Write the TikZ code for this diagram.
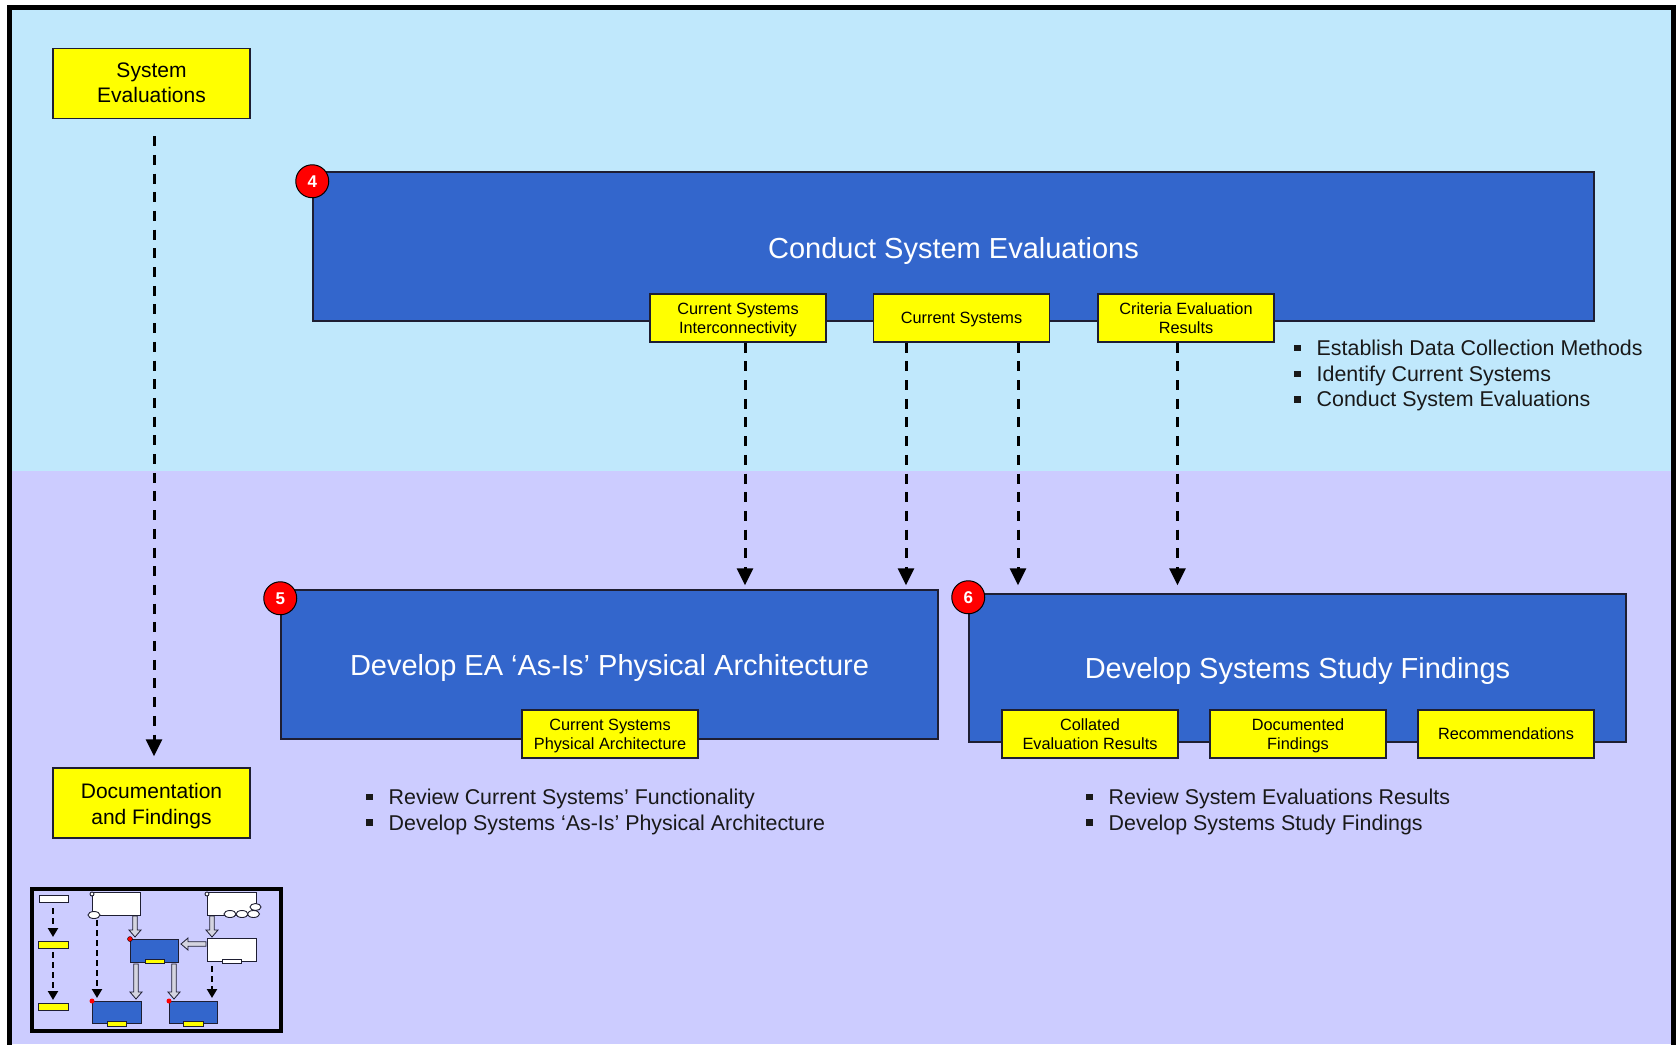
\documentclass[tikz,border=0pt]{standalone}
\usepackage{fontspec}
\setmainfont{Liberation Sans}
\usetikzlibrary{arrows.meta,calc}
\definecolor{skyb}{HTML}{C0E8FC}
\definecolor{lav}{HTML}{CCCCFF}
\definecolor{boxblue}{HTML}{3366CC}
\definecolor{yel}{HTML}{FFFF00}
\definecolor{edge}{HTML}{1E1E32}
\definecolor{hgrey}{HTML}{D4D4E0}
\newcommand{\thumbdown}[3]{%
  \draw[edge,fill=hgrey,line width=0.8pt] ({#1-2.2},{#2}) -- ({#1+2.2},{#2}) -- ({#1+2.2},{#3-7}) -- ({#1+6},{#3-7}) -- ({#1},{#3}) -- ({#1-6},{#3-7}) -- ({#1-2.2},{#3-7}) -- cycle;}
\newcommand{\thumbleft}[3]{%
  \draw[edge,fill=hgrey,line width=0.8pt] ({#1},{#3-2.2}) -- ({#1},{#3+2.2}) -- ({#2+7},{#3+2.2}) -- ({#2+7},{#3+6}) -- ({#2},{#3}) -- ({#2+7},{#3-6}) -- ({#2+7},{#3-2.2}) -- cycle;}
\newcommand{\bulletitem}[1]{\makebox[22.5pt][l]{\raisebox{4.2pt}{\rule{6.5pt}{6.5pt}}}#1}
\newcommand{\lowered}[2]{\raisebox{-#1}[\height][\depth]{\begin{tabular}{@{}c@{}}#2\end{tabular}}}
\begin{document}
\begin{tikzpicture}[x=1pt,y=-1pt,
  bigbox/.style={draw=edge,line width=1.5pt,fill=boxblue,text=white,
    font=\fontsize{29}{34}\selectfont,inner sep=0pt},
  lbl/.style={draw=edge,line width=1.3pt,fill=yel,text=black,align=center,
    minimum width=176pt,minimum height=48pt,inner sep=0pt,
    font=\fontsize{16.3}{19.3}\selectfont},
  sidebox/.style={draw=edge,line width=1.3pt,fill=yel,text=black,align=center,
    minimum width=197pt,minimum height=70pt,inner sep=0pt,
    font=\fontsize{21}{25.7}\selectfont},
  badge/.style={circle,draw=black,line width=1pt,fill=red,text=white,
    minimum size=33pt,inner sep=0pt,font=\fontsize{17}{17}\selectfont\bfseries},
  bitem/.style={anchor=base west,inner sep=0pt,text=black!90,
    font=\fontsize{21.4}{25.7}\selectfont},
  dasharrow/.style={line width=3pt,dash pattern=on 10pt off 8.7pt,
    -{Triangle[width=16pt,length=17pt]}},
  tdash/.style={line width=2pt,dash pattern=on 6pt off 4pt,
    -{Triangle[width=10pt,length=9pt]}},
  tbox/.style={draw=edge,line width=0.9pt},
]
\useasboundingbox (0,0) rectangle (1677,1044);
\fill[white] (0,0) rectangle (1677,1044);
% bands
\fill[skyb] (10,7) rectangle (1673,471);
\fill[lav] (10,471) rectangle (1673,1044);
\draw[black,line width=5pt] (9.5,1046) -- (9.5,7) -- (1673.5,7) -- (1673.5,1046);

% side boxes
\node[sidebox] (se) at (151.5,83.5) {\lowered{1.5pt}{System\\Evaluations}};
\node[sidebox] (df) at (151.5,803) {\lowered{3pt}{Documentation\\and Findings}};
\draw[dasharrow,shorten <=17pt,shorten >=11pt] ([xshift=2.5pt]se.south) -- ([xshift=2.5pt]df.north);

% main boxes
\node[bigbox,minimum width=1281pt,minimum height=149pt] (b4) at (953.5,246.5) {\lowered{5pt}{Conduct System Evaluations}};
\node[bigbox,minimum width=657pt,minimum height=149pt] (b5) at (609.5,664.5) {\lowered{4pt}{Develop EA ‘As-Is’ Physical Architecture}};
\node[bigbox,minimum width=657pt,minimum height=148pt] (b6) at (1297.5,668) {\lowered{4pt}{Develop Systems Study Findings}};

\node[badge] (n4) at (b4.north west) [yshift=-10pt] {4};
\node[badge] (n5) at (b5.north west) [yshift=-9pt] {5};
\node[badge] (n6) at (b6.north west) [yshift=-4pt] {6};

% labels
\node[lbl] (l1) at (738,318) {\lowered{2pt}{Current Systems\\Interconnectivity}};
\node[lbl] (l2) at (961.5,318) {\lowered{2pt}{Current Systems}};
\node[lbl] (l3) at (1186,318) {\lowered{2pt}{Criteria Evaluation\\Results}};
\node[lbl] (l4) at (610,734) {\lowered{2pt}{Current Systems\\Physical Architecture}};
\node[lbl] (l5) at (1090,734) {\lowered{2pt}{Collated\\Evaluation Results}};
\node[lbl] (l6) at (1298,734) {\lowered{2pt}{Documented\\Findings}};
\node[lbl] (l7) at (1506,734) {\lowered{2pt}{Recommendations}};

% connectors
\draw[dasharrow,shorten >=4pt] ([xshift=7pt]l1.south) -- ([xshift=7pt]l1.south |- b5.north);
\draw[dasharrow,shorten >=4pt] ([xshift=-55.5pt]l2.south) -- ([xshift=-55.5pt]l2.south |- b5.north);
\draw[dasharrow,shorten >=8pt] ([xshift=56.5pt]l2.south) -- ([xshift=56.5pt]l2.south |- b6.north);
\draw[dasharrow,shorten >=8pt] ([xshift=-8.5pt]l3.south) -- ([xshift=-8.5pt]l3.south |- b6.north);

% bullet lists
\node[bitem] (t1) at (1294,355.5) {\bulletitem{Establish Data Collection Methods}};
\node[bitem] (t2) at (1294,381.2) {\bulletitem{Identify Current Systems}};
\node[bitem] (t3) at (1294,406.9) {\bulletitem{Conduct System Evaluations}};
\node[bitem] (t4) at (366,804.3) {\bulletitem{Review Current Systems’ Functionality}};
\node[bitem] (t5) at (366,830) {\bulletitem{Develop Systems ‘As-Is’ Physical Architecture}};
\node[bitem] (t6) at (1086,804.3) {\bulletitem{Review System Evaluations Results}};
\node[bitem] (t7) at (1086,830) {\bulletitem{Develop Systems Study Findings}};

% thumbnail
\draw[black,line width=3.5pt,fill=lav] (32,889) rectangle (281,1031);
\draw[tbox,fill=white] (39,895) rectangle (68,902);
\draw[tdash] (53,908) -- (53,937);
\draw[tbox,fill=yel] (38,941) rectangle (68,948);
\draw[tdash] (53,952) -- (53,1000);
\draw[tbox,fill=yel] (38,1003) rectangle (68,1010);
% box A
\draw[tbox,fill=white] (92,892) rectangle (140,915);
\draw[tbox,fill=white] (92,894) circle (2pt);
\draw[tbox,fill=white] (94,915) ellipse (6pt and 3.5pt);
\draw[tdash] (97,920) -- (97,998);
\thumbdown{135}{916}{937}
% box B
\draw[tbox,fill=white] (207,892) rectangle (256,915);
\draw[tbox,fill=white] (207,894) circle (2pt);
\draw[tbox,fill=white] (230,914) ellipse (6pt and 3.5pt);
\draw[tbox,fill=white] (242,914) ellipse (6pt and 3.5pt);
\draw[tbox,fill=white] (253.5,914) ellipse (6pt and 3.5pt);
\draw[tbox,fill=white] (255.5,907) ellipse (5.5pt and 3.5pt);
\thumbdown{212}{916}{937}
% box M
\draw[tbox,fill=boxblue] (130,939) rectangle (178,962);
\draw[tbox,fill=yel] (145,959) rectangle (164,963);
\fill[red] (130,939) circle (2.5pt);
\draw[black,line width=0.4pt] (130,939) circle (2.5pt);
% box C
\draw[tbox,fill=white] (207,938) rectangle (256,961);
\draw[tbox,fill=white] (222,959) rectangle (241,963);
\thumbleft{206}{181}{944}
\thumbdown{136}{964}{999}
\thumbdown{174}{964}{999}
\draw[tdash] (212,966) -- (212,998);
% bottom boxes
\draw[tbox,fill=boxblue] (92,1001) rectangle (141,1023);
\draw[tbox,fill=yel] (107,1021) rectangle (126,1026);
\fill[red] (92,1001) circle (2.5pt);
\draw[tbox,fill=boxblue] (169,1001) rectangle (217,1023);
\draw[tbox,fill=yel] (183,1021) rectangle (203,1026);
\fill[red] (169,1001) circle (2.5pt);
\end{tikzpicture}
\end{document}
